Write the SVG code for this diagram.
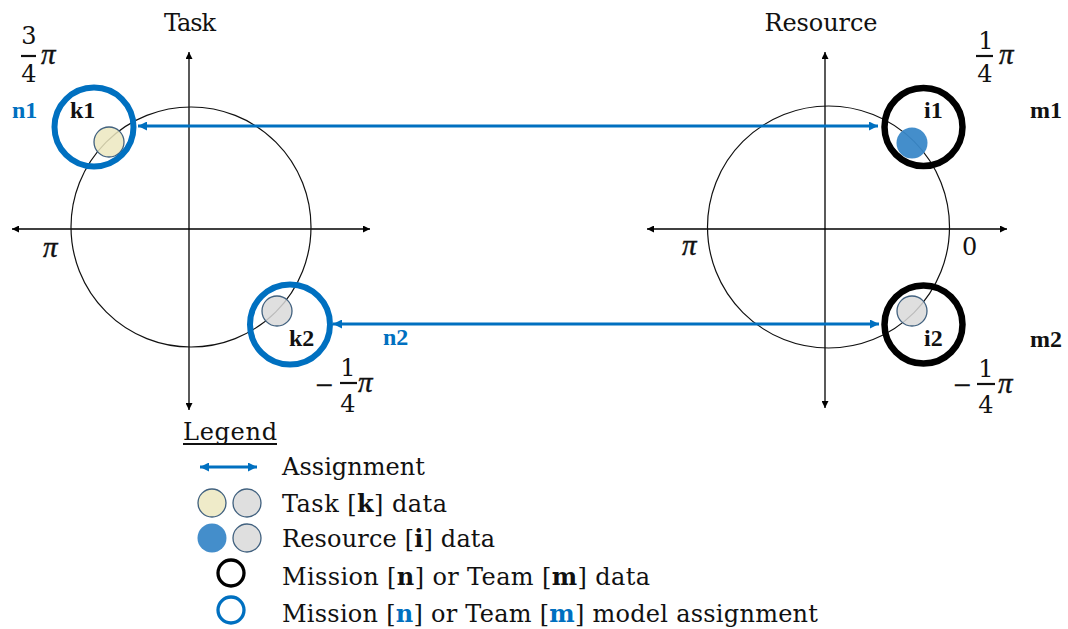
<svg xmlns="http://www.w3.org/2000/svg" width="1068" height="629" viewBox="0 0 1068 629">
<style>
.t{font-family:"DejaVu Serif","Liberation Serif",serif;font-size:24px;fill:#111}
.m{font-family:"DejaVu Serif","Liberation Serif",serif;font-size:24px;fill:#111}
.pi{font-family:"Liberation Serif","DejaVu Serif",serif;font-size:29px;font-style:italic;fill:#111;stroke:#111;stroke-width:0.4}
.b{font-family:"Liberation Serif",serif;font-size:24px;font-weight:bold;fill:#111}
.bb{font-family:"Liberation Serif",serif;font-size:24px;font-weight:bold;fill:#0070C0}
.axis{stroke:#000;stroke-width:1.3;fill:none}
.unit{stroke:#111;stroke-width:1.2;fill:none}
.bar{stroke:#111;stroke-width:2.2}
.ringb{fill:none;stroke:#0070C0;stroke-width:6}
.ringk{fill:none;stroke:#000;stroke-width:6.5}
.beige{fill:#ECE7BF;fill-opacity:0.85;stroke:#41617F;stroke-width:1.3}
.grey{fill:#D9D9D9;fill-opacity:0.85;stroke:#41617F;stroke-width:1.3}
.blue{fill:#3A88C8;fill-opacity:0.95;stroke:none}
.assign{stroke:#0070C0;stroke-width:2.8;fill:none}
</style>
<defs>
<marker id="ax" viewBox="0 0 10 10" refX="10" refY="5" markerWidth="8" markerHeight="7" markerUnits="userSpaceOnUse" orient="auto-start-reverse"><path d="M0,0 L10,5 L0,10 z" fill="#000"/></marker>
<marker id="bl" viewBox="0 0 10 10" refX="10" refY="5" markerWidth="11" markerHeight="9" markerUnits="userSpaceOnUse" orient="auto-start-reverse"><path d="M0,0 L10,5 L0,10 z" fill="#0070C0"/></marker>
</defs>
<rect width="1068" height="629" fill="#fff"/>

<g id="task-axes">
<text class="t" x="190" y="31" text-anchor="middle" textLength="52">Task</text>
<line class="axis" x1="12" y1="229" x2="370" y2="229" marker-start="url(#ax)" marker-end="url(#ax)"/>
<line class="axis" x1="189" y1="52" x2="189" y2="410" marker-start="url(#ax)" marker-end="url(#ax)"/>
<circle class="unit" cx="191" cy="227" r="120"/>
<text class="m" x="29" y="44" text-anchor="middle">3</text>
<line class="bar" x1="21" y1="56" x2="36" y2="56"/>
<text class="m" x="29" y="82" text-anchor="middle">4</text>
<text class="pi" x="41" y="64">π</text>
<text class="pi" x="43" y="257">π</text>
<text class="m" x="314" y="393" textLength="19">−</text>
<text class="m" x="348" y="376" text-anchor="middle">1</text>
<line class="bar" x1="340" y1="383" x2="357" y2="383"/>
<text class="m" x="348" y="412" text-anchor="middle">4</text>
<text class="pi" x="358" y="392">π</text>
</g>

<g id="resource-axes">
<text class="t" x="821" y="31" text-anchor="middle" textLength="113">Resource</text>
<line class="axis" x1="647" y1="229" x2="1007" y2="229" marker-start="url(#ax)" marker-end="url(#ax)"/>
<line class="axis" x1="825" y1="52" x2="825" y2="408" marker-start="url(#ax)" marker-end="url(#ax)"/>
<circle class="unit" cx="828.5" cy="227" r="121"/>
<text class="m" x="986" y="49" text-anchor="middle">1</text>
<line class="bar" x1="976" y1="56" x2="993" y2="56"/>
<text class="m" x="985" y="82" text-anchor="middle">4</text>
<text class="pi" x="999" y="64">π</text>
<text class="pi" x="682" y="255">π</text>
<text class="m" x="962" y="255">0</text>
<text class="m" x="952" y="393" textLength="20">−</text>
<text class="m" x="986" y="377" text-anchor="middle">1</text>
<line class="bar" x1="977" y1="384" x2="995" y2="384"/>
<text class="m" x="986" y="413" text-anchor="middle">4</text>
<text class="pi" x="998" y="393">π</text>
</g>

<g id="k1">
<circle class="beige" cx="109" cy="142" r="15"/>
<circle class="ringb" cx="94" cy="127" r="39.5"/>
<text class="b" x="70" y="118">k1</text>
<text class="bb" x="12" y="118">n1</text>
</g>
<g id="k2">
<circle class="grey" cx="277" cy="311" r="15"/>
<circle class="ringb" cx="290" cy="324.5" r="40"/>
<text class="b" x="289" y="346">k2</text>
</g>
<g id="i1">
<circle class="blue" cx="912" cy="143" r="15.5"/>
<circle class="ringk" cx="923.5" cy="127" r="39"/>
<text class="b" x="924" y="118">i1</text>
<text class="b" x="1030" y="118">m1</text>
</g>
<g id="i2">
<circle class="grey" cx="912" cy="311" r="15"/>
<circle class="ringk" cx="923.5" cy="324.5" r="39"/>
<text class="b" x="924" y="346">i2</text>
<text class="b" x="1030" y="347">m2</text>
</g>

<g id="connectors">
<line class="assign" x1="138" y1="126" x2="878" y2="126" marker-start="url(#bl)" marker-end="url(#bl)"/>
<line class="assign" x1="333" y1="324" x2="879" y2="324" marker-start="url(#bl)" marker-end="url(#bl)"/>
<text class="bb" x="383" y="345">n2</text>
</g>

<g id="legend">
<text class="t" x="183" y="440" textLength="94">Legend</text>
<line x1="183" y1="444" x2="277" y2="444" stroke="#111" stroke-width="2"/>
<line class="assign" x1="200" y1="467" x2="257" y2="467" stroke-width="2.5" marker-start="url(#bl)" marker-end="url(#bl)"/>
<text class="t" x="282" y="475" textLength="143">Assignment</text>
<circle class="beige" cx="212" cy="503" r="14" fill-opacity="1"/>
<circle class="grey" cx="247" cy="503" r="14" fill-opacity="1"/>
<text class="t" x="282" y="512" textLength="165">Task [<tspan font-weight="bold">k</tspan>] data</text>
<circle class="blue" cx="212" cy="538" r="14.5"/>
<circle class="grey" cx="247" cy="538" r="14" fill-opacity="1"/>
<text class="t" x="282" y="547" textLength="213">Resource [<tspan font-weight="bold">i</tspan>] data</text>
<circle cx="231" cy="573" r="13" fill="none" stroke="#000" stroke-width="3.3"/>
<text class="t" x="282" y="585" textLength="368">Mission [<tspan font-weight="bold">n</tspan>] or Team [<tspan font-weight="bold">m</tspan>] data</text>
<circle cx="231" cy="610" r="13" fill="none" stroke="#0070C0" stroke-width="3.3"/>
<text class="t" x="282" y="622" textLength="536">Mission [<tspan font-weight="bold" fill="#0070C0">n</tspan>] or Team [<tspan font-weight="bold" fill="#0070C0">m</tspan>] model assignment</text>
</g>
</svg>
